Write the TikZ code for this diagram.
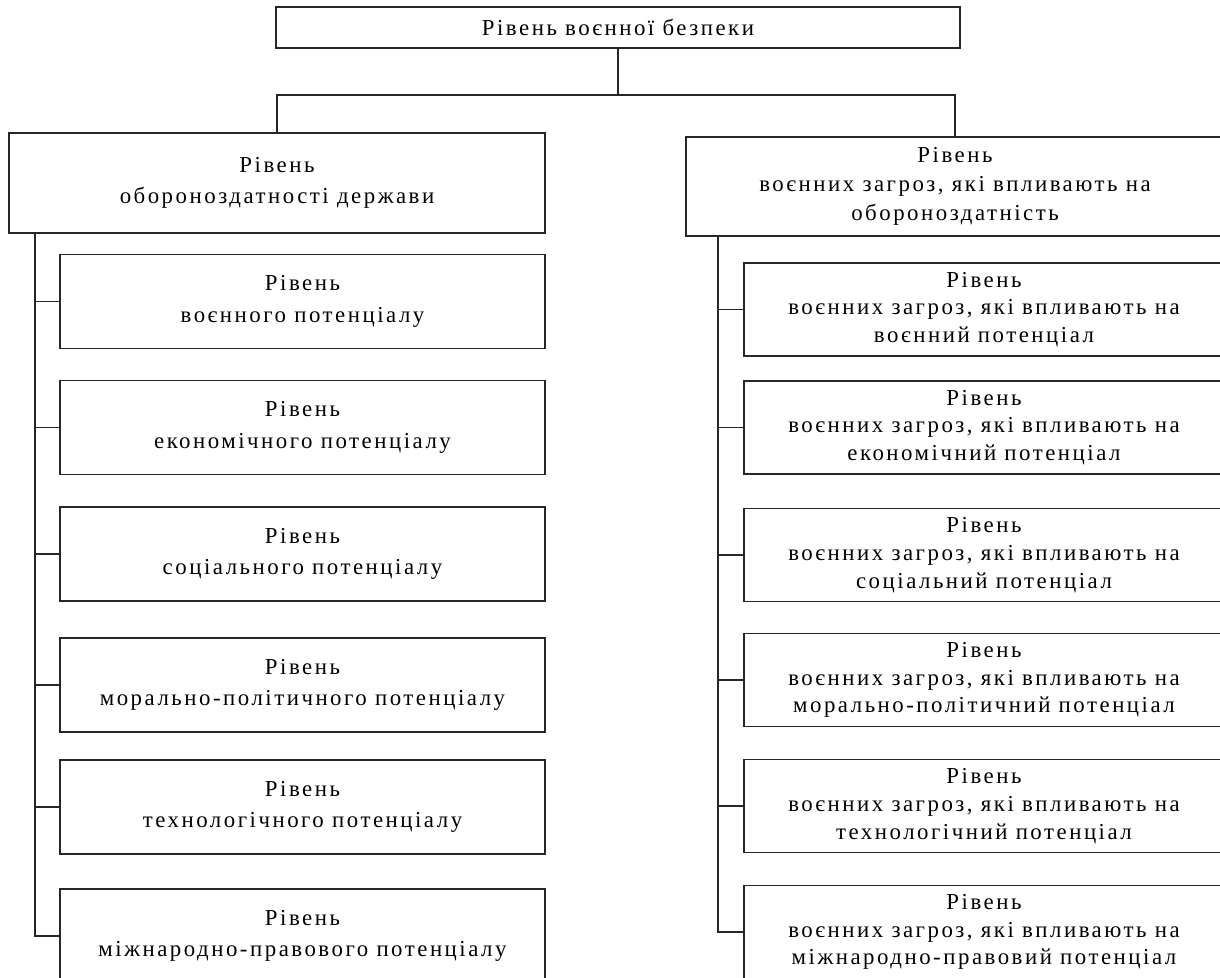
\documentclass[tikz,border=0pt]{standalone}
\usepackage{fontspec}
\setmainfont[LetterSpace=11]{Liberation Serif}
\usepackage{tikz}
\tikzset{
Boite/.style={
 draw=black!85,
 line width=0.7pt,
 rectangle,
 align=center,
 inner sep=0pt,
 font=\fontsize{13}{18}\selectfont
 },
BoiteG/.style={
 Boite,
 minimum width=9.7cm,
 minimum height=1.88cm
 },
BoiteD/.style={
 Boite,
 minimum width=9.6cm,
 minimum height=1.86cm,
 font=\fontsize{13}{15.8}\selectfont
 },
Trait/.style={
 draw=black!85,
 line width=0.6pt
 }
}

\begin{document}
\begin{tikzpicture}[x=0.02cm,y=-0.02cm]
\useasboundingbox (0,0) rectangle (1220,977);
% niveau superieur
\node[Boite,minimum width=13.68cm,minimum height=0.82cm] (Securite) at (618,27.5) {Рівень воєнної безпеки};
\node[Boite,minimum width=10.72cm,minimum height=2cm] (Gauche) at (277,183) {Рівень\\обороноздатності держави};
\node[Boite,minimum width=10.76cm,minimum height=1.98cm,font=\fontsize{13}{16.4}\selectfont] (Droite) at (955,186.5) {Рівень\\воєнних загроз, які впливають на\\обороноздатність};
\coordinate (Noeud) at (618,95);
\draw[Trait] (Securite.south) -- (Noeud);
\draw[Trait] (Gauche.north) |- (Noeud) -| (Droite.north);
% potentiels
\node[BoiteG] (G1) at (302.5,301.5) {Рівень\\воєнного потенціалу};
\node[BoiteG] (G2) at (302.5,427.5) {Рівень\\економічного потенціалу};
\node[BoiteG] (G3) at (302.5,554) {Рівень\\соціального потенціалу};
\node[BoiteG] (G4) at (302.5,685) {Рівень\\морально-політичного потенціалу};
\node[BoiteG] (G5) at (302.5,807) {Рівень\\технологічного потенціалу};
\node[BoiteG] (G6) at (302.5,936) {Рівень\\міжнародно-правового потенціалу};
% загрози
\node[BoiteD] (D1) at (984,309.5) {Рівень\\воєнних загроз, які впливають на\\воєнний потенціал};
\node[BoiteD] (D2) at (984,427.5) {Рівень\\воєнних загроз, які впливають на\\економічний потенціал};
\node[BoiteD] (D3) at (984,555) {Рівень\\воєнних загроз, які впливають на\\соціальний потенціал};
\node[BoiteD] (D4) at (984,680) {Рівень\\воєнних загроз, які впливають на\\морально-політичний потенціал};
\node[BoiteD] (D5) at (984,806) {Рівень\\воєнних загроз, які впливають на\\технологічний потенціал};
\node[BoiteD] (D6) at (984,932) {Рівень\\воєнних загроз, які впливають на\\міжнародно-правовий потенціал};
% troncs
\coordinate (TroncG) at (35,233);
\coordinate (TroncD) at (718,236);
\draw[Trait] (TroncG) |- (G6.west);
\draw[Trait] (TroncG |- G1.west) -- (G1.west);
\draw[Trait] (TroncG |- G2.west) -- (G2.west);
\draw[Trait] (TroncG |- G3.west) -- (G3.west);
\draw[Trait] (TroncG |- G4.west) -- (G4.west);
\draw[Trait] (TroncG |- G5.west) -- (G5.west);
\draw[Trait] (TroncD) |- (D6.west);
\draw[Trait] (TroncD |- D1.west) -- (D1.west);
\draw[Trait] (TroncD |- D2.west) -- (D2.west);
\draw[Trait] (TroncD |- D3.west) -- (D3.west);
\draw[Trait] (TroncD |- D4.west) -- (D4.west);
\draw[Trait] (TroncD |- D5.west) -- (D5.west);
\end{tikzpicture}
\end{document}
